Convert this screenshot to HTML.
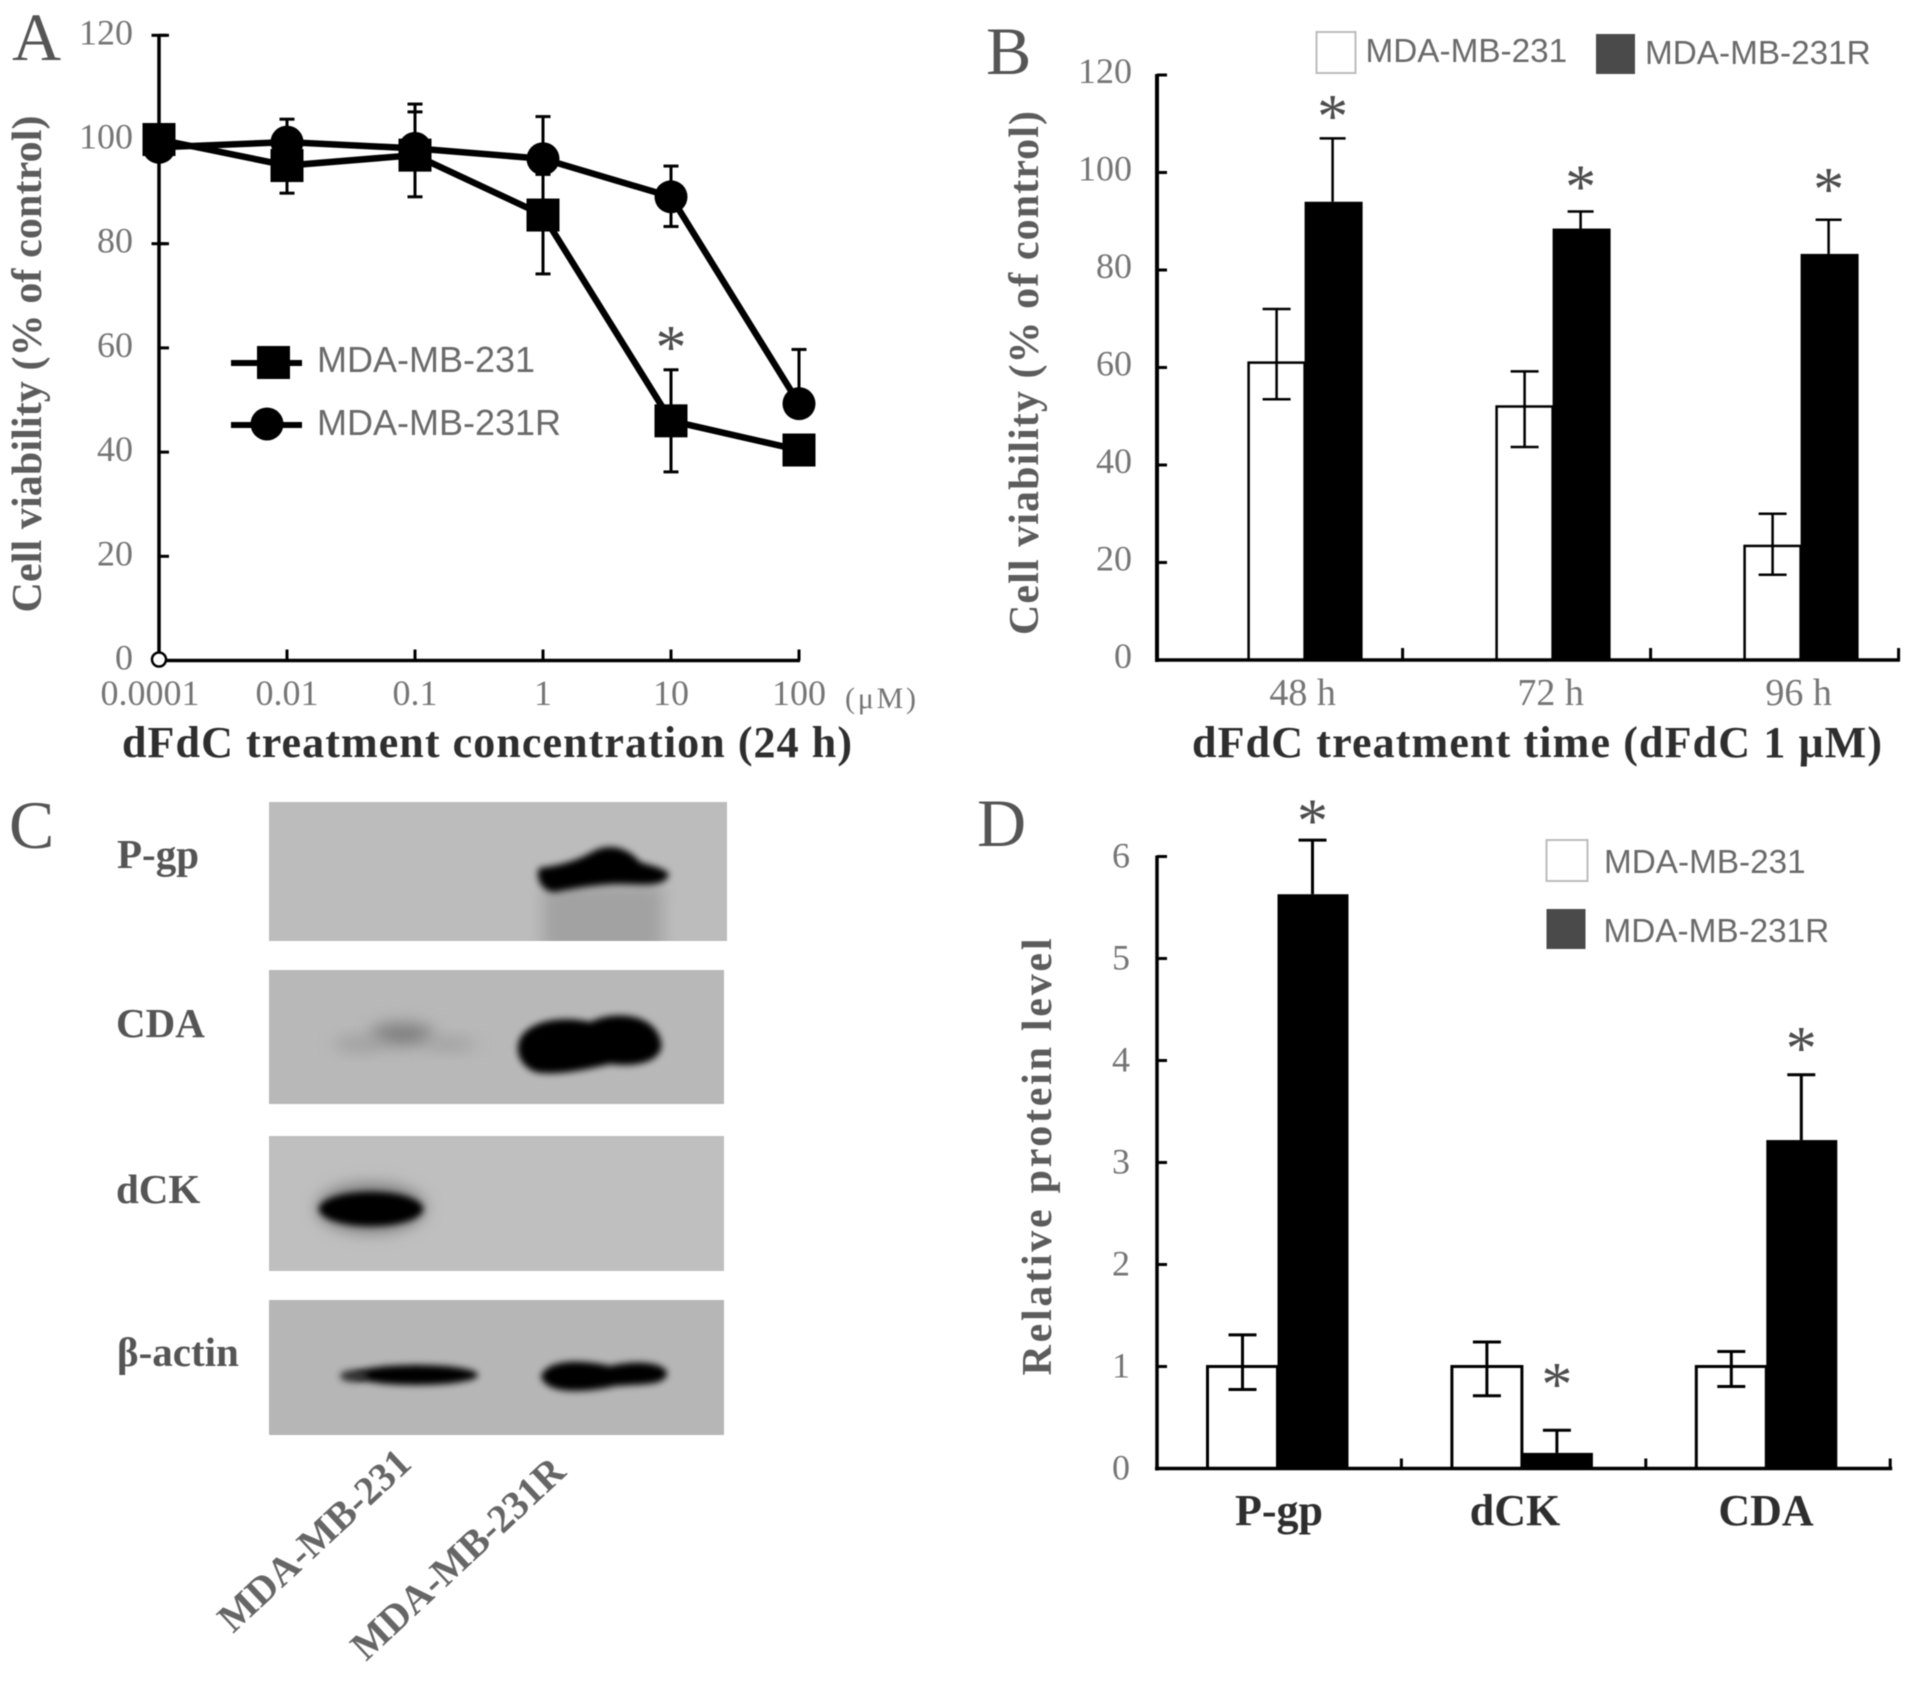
<!DOCTYPE html>
<html lang="en">
<head>
<meta charset="utf-8">
<title>dFdC resistance figure</title>
<style>
html,body{margin:0;padding:0;background:#fff;}
svg{display:block;}
#figure{filter:blur(0.5px);}
.serif{font-family:"Liberation Serif",serif;}
.sans{font-family:"Liberation Sans",sans-serif;}
.tick{font-family:"Liberation Serif",serif;font-size:36px;fill:#757575;}
.letter{font-family:"Liberation Serif",serif;font-size:68px;fill:#555;}
.ytitle{font-family:"Liberation Serif",serif;font-weight:bold;font-size:42px;fill:#5c5c5c;}
.xtitle{font-family:"Liberation Serif",serif;font-weight:bold;font-size:44px;fill:#2e2e2e;}
.legend{font-family:"Liberation Sans",sans-serif;font-size:33.3px;fill:#6a6a6a;}
.blotlabel{font-family:"Liberation Serif",serif;font-weight:bold;font-size:41px;fill:#555;}
.lanelabel{font-family:"Liberation Serif",serif;font-weight:bold;font-size:40px;fill:#666;}
.star{font-family:"Liberation Serif",serif;font-size:62px;fill:#4d4d4d;}
</style>
</head>
<body>
<svg id="figure" xmlns="http://www.w3.org/2000/svg" width="1913" height="1684" viewBox="0 0 1913 1684">
  <defs>
    <filter id="b2" x="-30%" y="-80%" width="160%" height="260%"><feGaussianBlur stdDeviation="3.5"/></filter>
    <filter id="b8" x="-40%" y="-80%" width="180%" height="260%"><feGaussianBlur stdDeviation="8"/></filter>
    <clipPath id="clipP"><rect x="269" y="802" width="458" height="139"/></clipPath>
  </defs>

  <text class="letter" x="12" y="60">A</text>
  <text class="letter" x="986" y="74">B</text>
  <text class="letter" x="9" y="848">C</text>
  <text class="letter" x="977" y="846">D</text>

  <!-- Panel A static -->
  <g id="panelA"></g>
  <text class="ytitle" transform="translate(41 364) rotate(-90)" text-anchor="middle" textLength="497">Cell viability (% of control)</text>
  <text class="xtitle" x="122" y="757" textLength="730">dFdC treatment concentration (24 h)</text>
  <text class="serif" x="845" y="708" font-size="30" fill="#757575" textLength="71">(μM)</text>
  <g>
    <line x1="231" y1="363" x2="302" y2="363" stroke="#000" stroke-width="6"/>
    <rect x="257" y="346" width="33" height="33" fill="#000"/>
    <text class="legend" x="317" y="372" style="font-size:36px">MDA-MB-231</text>
    <line x1="231" y1="425" x2="302" y2="425" stroke="#000" stroke-width="6"/>
    <circle cx="267" cy="424" r="16.5" fill="#000"/>
    <text class="legend" x="317" y="435" style="font-size:36px">MDA-MB-231R</text>
  </g>

  <!-- Panel B static -->
  <g id="panelB"></g>
  <text class="ytitle" transform="translate(1038 373) rotate(-90)" text-anchor="middle" textLength="524">Cell viability (% of control)</text>
  <text class="xtitle" x="1192" y="757" textLength="690">dFdC treatment time (dFdC 1 μM)</text>
  <g>
    <rect x="1319" y="32" width="39" height="41" fill="#fff" stroke="#bdbdbd" stroke-width="2" transform="translate(-2.5 0)"/>
    <text class="legend" x="1365.5" y="62">MDA-MB-231</text>
    <rect x="1596" y="34" width="39" height="40" fill="#4a4a4a"/>
    <text class="legend" x="1645" y="64">MDA-MB-231R</text>
  </g>

  <!-- Panel C western blots -->
  <g>
    <g>
      <rect x="269" y="802" width="458" height="139" fill="#bcbcbc"/>
      <g clip-path="url(#clipP)">
        <rect x="543" y="885" width="120" height="70" fill="#a2a2a2" filter="url(#b8)"/>
        <path d="M539 868 C556 866 575 862 592 852 C610 842 628 848 640 862 C652 866 664 868 669 874 C666 888 640 884 620 884 C600 884 575 888 555 892 C543 892 535 880 539 868 Z" fill="#000" filter="url(#b2)"/>
      </g>
    </g>
    <g>
      <rect x="269" y="970" width="455" height="134" fill="#b8b8b8"/>
      <ellipse cx="402" cy="1034" rx="32" ry="11" fill="#7e7e7e" filter="url(#b8)"/>
      <ellipse cx="360" cy="1044" rx="26" ry="7" fill="#9c9c9c" filter="url(#b8)"/>
      <ellipse cx="450" cy="1044" rx="26" ry="6" fill="#9c9c9c" filter="url(#b8)"/>
      <path d="M518 1046 C520 1024 555 1014 590 1022 C615 1010 652 1014 660 1038 C668 1060 640 1068 610 1064 C585 1070 555 1076 535 1072 C522 1066 517 1056 518 1046 Z" fill="#000" filter="url(#b2)"/>
    </g>
    <g>
      <rect x="269" y="1136" width="455" height="135" fill="#bfbfbf"/>
      <ellipse cx="371" cy="1208" rx="54" ry="24" fill="#777" filter="url(#b8)"/>
      <ellipse cx="371" cy="1209" rx="52" ry="17" fill="#000" filter="url(#b2)"/>
    </g>
    <g>
      <rect x="269" y="1300" width="455" height="135" fill="#b6b6b6"/>
      <ellipse cx="416" cy="1375" rx="62" ry="10" fill="#000" filter="url(#b2)"/>
      <ellipse cx="354" cy="1376" rx="14" ry="6" fill="#333" filter="url(#b2)"/>
      <path d="M541 1376 C548 1358 585 1360 610 1366 C635 1360 662 1362 667 1372 C668 1386 640 1384 615 1386 C590 1392 545 1396 541 1376 Z" fill="#000" filter="url(#b2)"/>
    </g>
    <text class="blotlabel" x="117" y="868">P-gp</text>
    <text class="blotlabel" x="116" y="1037">CDA</text>
    <text class="blotlabel" x="116" y="1203">dCK</text>
    <text class="blotlabel" x="117" y="1366">β-actin</text>
    <text class="lanelabel" transform="translate(233 1634) rotate(-43)">MDA-MB-231</text>
    <text class="lanelabel" transform="translate(366 1662) rotate(-43)">MDA-MB-231R</text>
  </g>

  <!-- Panel D static -->
  <g id="panelD"></g>
  <text class="ytitle" transform="translate(1051 1157) rotate(-90)" text-anchor="middle" textLength="437">Relative protein level</text>
  <text class="xtitle" x="1279" y="1525" text-anchor="middle">P-gp</text>
  <text class="xtitle" x="1515" y="1525" text-anchor="middle">dCK</text>
  <text class="xtitle" x="1766" y="1525" text-anchor="middle">CDA</text>
  <g>
    <rect x="1546.5" y="840" width="41" height="41" fill="#fff" stroke="#bdbdbd" stroke-width="2"/>
    <text class="legend" x="1604" y="873">MDA-MB-231</text>
    <rect x="1546.5" y="909" width="39" height="40" fill="#4a4a4a"/>
    <text class="legend" x="1603.5" y="942">MDA-MB-231R</text>
  </g>
</svg>

<script>
// ---- Panel A data ----
const concLabels = ['0.0001', '0.01', '0.1', '1', '10', '100'];
const viabilityTicksA = [0, 20, 40, 60, 80, 100, 120];
const parentViability = [100, 95, 97, 85.5, 46, 40.4];
const parentErrUp = [20, 5, 8.3, 11.3, 9.8, 1];
const parentErrDown = [20, 5.3, 8, 11.3, 9.8, 1];
const resistantViability = [98.5, 99.5, 98.3, 96.3, 89, 49.3];
const resistantErrUp = [1, 4.4, 8.5, 8.1, 5.9, 10.4];
const resistantErrDown = [1, 3, 3, 3, 5.7, 1];
const starLevelA = [null, null, null, null, 61.3, null];

// ---- Panel B data ----
const timeLabels = ['48 h', '72 h', '96 h'];
const viabilityTicksB = [0, 20, 40, 60, 80, 100, 120];
const timeParent = [61, 52, 23.4];
const timeParentUp = [72, 59.2, 30];
const timeParentDown = [53.5, 43.7, 17.5];
const timeResistant = [94, 88.5, 83.3];
const timeResistantUp = [107, 92, 90.3];
const timeStarLevel = [112.8, 98.4, 97.8];

// ---- Panel D data ----
const proteinLabels = ['P-gp', 'dCK', 'CDA'];
const proteinTicks = [0, 1, 2, 3, 4, 5, 6];
const proteinParent = [1, 1, 1];
const proteinParentUp = [1.31, 1.24, 1.147];
const proteinParentDown = [0.775, 0.713, 0.804];
const proteinResistant = [5.63, 0.153, 3.22];
const proteinResistantUp = [6.16, 0.375, 3.86];
const proteinStarLevel = [6.41, 0.885, 4.18];

const NS = 'http://www.w3.org/2000/svg';
function mk(parent, tag, props, txt) {
  const n = document.createElementNS(NS, tag);
  for (const k in props) n.setAttribute(k, props[k]);
  if (txt !== undefined) n.textContent = txt;
  parent.appendChild(n);
  return n;
}
function tag(n, name) {
  
  
  return n;
}
function seg(g, x1, y1, x2, y2, w, name) {
  const l = mk(g, 'line', {x1, y1, x2, y2, stroke: '#000', 'stroke-width': w});
  return tag(l, name);
}
function star(g, cx, cy, name) {
  const s = mk(g, 'text', {class: 'star', x: cx, y: cy + 27, 'text-anchor': 'middle'}, '*');
  return tag(s, name);
}
function errorBar(g, x, yTop, yBottom, cap, w, name) {
  seg(g, x, yTop, x, yBottom, w, name + '-stem');
  seg(g, x - cap / 2, yTop, x + cap / 2, yTop, w, name + '-cap-top');
  seg(g, x - cap / 2, yBottom, x + cap / 2, yBottom, w, name + '-cap-bottom');
}

// ---- Draw panel A ----
(function () {
  const g = document.getElementById('panelA');
  const xA = i => 159 + i * 128;
  const yA = v => 660.5 - v * 5.21;
  seg(g, xA(0), yA(120), xA(0), yA(0) + 1.5, 3.5, 'y-axis-line');
  seg(g, xA(0), yA(0), xA(5) + 1, yA(0), 3.5, 'x-axis-line');
  viabilityTicksA.forEach(function (v) {
    seg(g, xA(0), yA(v), xA(0) + 10, yA(v), 3, 'y-tick-' + v);
    const t = mk(g, 'text', {class: 'tick', x: 133, y: yA(v) + 9, 'text-anchor': 'end'}, String(v));
    tag(t, 'y-tick-label-' + v);
  });
  concLabels.forEach(function (c, i) {
    if (i > 0) seg(g, xA(i), yA(0), xA(i), yA(0) - 11, 3, 'x-tick-' + c);
    const t = mk(g, 'text', {class: 'tick', x: i === 0 ? 150 : xA(i), y: 705, 'text-anchor': 'middle'}, c);
    tag(t, 'x-tick-label-' + c);
  });
  concLabels.forEach(function (c, i) {
    errorBar(g, xA(i), yA(parentViability[i] + parentErrUp[i]), yA(parentViability[i] - parentErrDown[i]), 15, 3, 'error-bar-parent-' + c);
    errorBar(g, xA(i), yA(resistantViability[i] + resistantErrUp[i]), yA(resistantViability[i] - resistantErrDown[i]), 15, 3, 'error-bar-resistant-' + c);
  });
  const pts = a => a.map((v, i) => xA(i) + ',' + yA(v)).join(' ');
  const l1 = mk(g, 'polyline', {points: pts(resistantViability), fill: 'none', stroke: '#000', 'stroke-width': 6.5});
  tag(l1, 'line-mda-mb-231r');
  const l2 = mk(g, 'polyline', {points: pts(parentViability), fill: 'none', stroke: '#000', 'stroke-width': 6.5});
  tag(l2, 'line-mda-mb-231');
  resistantViability.forEach(function (v, i) {
    const c = mk(g, 'circle', {cx: xA(i), cy: yA(v), r: 16.5, fill: '#000'});
    tag(c, 'point-mda-mb-231r-' + concLabels[i]);
  });
  parentViability.forEach(function (v, i) {
    const r = mk(g, 'rect', {x: xA(i) - 16.5, y: yA(v) - 16.5, width: 33, height: 33, fill: '#000'});
    tag(r, 'point-mda-mb-231-' + concLabels[i]);
  });
  const o = mk(g, 'circle', {cx: xA(0), cy: yA(0) - 1, r: 7, fill: '#fff', stroke: '#000', 'stroke-width': 2.5});
  tag(o, 'axis-origin-marker');
  starLevelA.forEach(function (v, i) {
    if (v !== null) star(g, xA(i), yA(v), 'significance-star-' + concLabels[i]);
  });
})();

// ---- Draw panel B ----
(function () {
  const g = document.getElementById('panelB');
  const xB = i => 1157 + i * 248;
  const yB = v => 660 - v * 4.875;
  const bw = 56;
  timeLabels.forEach(function (c, i) {
    const cx = xB(i) + 147.6;
    const a = mk(g, 'rect', {x: cx - bw, y: yB(timeParent[i]), width: bw, height: yB(0) - yB(timeParent[i]), fill: '#fff', stroke: '#000', 'stroke-width': 2.5});
    tag(a, 'bar-parent-' + c);
    errorBar(g, cx - 28, yB(timeParentUp[i]), yB(timeParentDown[i]), 28, 2.5, 'error-bar-parent-' + c);
    seg(g, cx + 28, yB(timeResistantUp[i]), cx + 28, yB(timeResistant[i]), 2.5, 'error-stem-resistant-' + c);
    seg(g, cx + 15, yB(timeResistantUp[i]), cx + 41, yB(timeResistantUp[i]), 2.5, 'error-cap-resistant-' + c);
    const b = mk(g, 'rect', {x: cx, y: yB(timeResistant[i]), width: bw + 2, height: yB(0) - yB(timeResistant[i]), fill: '#000'});
    tag(b, 'bar-resistant-' + c);
    star(g, cx + 28, yB(timeStarLevel[i]), 'significance-star-' + c);
    seg(g, xB(i + 1) - 2.4, yB(0), xB(i + 1) - 2.4, yB(0) - 12, 3, 'x-tick-' + (i + 1));
    const t = mk(g, 'text', {class: 'tick', x: cx - 2, y: 705, 'text-anchor': 'middle', style: 'font-size:38px'}, c);
    tag(t, 'x-tick-label-' + c);
  });
  seg(g, 1157, yB(120) - 1, 1157, yB(0) + 2, 4, 'y-axis-line');
  seg(g, 1155, yB(0), xB(3) - 1, yB(0), 3.5, 'x-axis-line');
  viabilityTicksB.forEach(function (v) {
    seg(g, 1157, yB(v), 1167, yB(v), 3, 'y-tick-' + v);
    const t = mk(g, 'text', {class: 'tick', x: 1132, y: yB(v) + 8, 'text-anchor': 'end'}, String(v));
    tag(t, 'y-tick-label-' + v);
  });
})();

// ---- Draw panel D ----
(function () {
  const g = document.getElementById('panelD');
  const xD = i => 1157 + i * 244.4;
  const yD = v => 1468.5 - v * 102;
  const bw = 70;
  proteinLabels.forEach(function (c, i) {
    const cx = xD(i) + 120.5;
    const a = mk(g, 'rect', {x: cx - bw, y: yD(proteinParent[i]), width: bw, height: yD(0) - yD(proteinParent[i]), fill: '#fff', stroke: '#000', 'stroke-width': 3});
    tag(a, 'bar-parent-' + c);
    errorBar(g, cx - 35, yD(proteinParentUp[i]), yD(proteinParentDown[i]), 28, 3, 'error-bar-parent-' + c);
    seg(g, cx + 35, yD(proteinResistantUp[i]), cx + 35, yD(proteinResistant[i]), 3, 'error-stem-resistant-' + c);
    seg(g, cx + 21, yD(proteinResistantUp[i]), cx + 49, yD(proteinResistantUp[i]), 3, 'error-cap-resistant-' + c);
    const b = mk(g, 'rect', {x: cx, y: yD(proteinResistant[i]), width: bw + 1, height: yD(0) - yD(proteinResistant[i]), fill: '#000'});
    tag(b, 'bar-resistant-' + c);
    star(g, cx + 35, yD(proteinStarLevel[i]), 'significance-star-' + c);
    seg(g, xD(i + 1), yD(0), xD(i + 1), yD(0) - 10, 3, 'x-tick-' + (i + 1));
  });
  seg(g, 1157, yD(6) - 1, 1157, yD(0) + 2, 3.5, 'y-axis-line');
  seg(g, 1155, yD(0), xD(3) + 2, yD(0), 3.5, 'x-axis-line');
  proteinTicks.forEach(function (v) {
    seg(g, 1157, yD(v), 1167, yD(v), 3, 'y-tick-' + v);
    const t = mk(g, 'text', {class: 'tick', x: 1130, y: yD(v) + 11, 'text-anchor': 'end'}, String(v));
    tag(t, 'y-tick-label-' + v);
  });
})();
</script>
</body>
</html>
